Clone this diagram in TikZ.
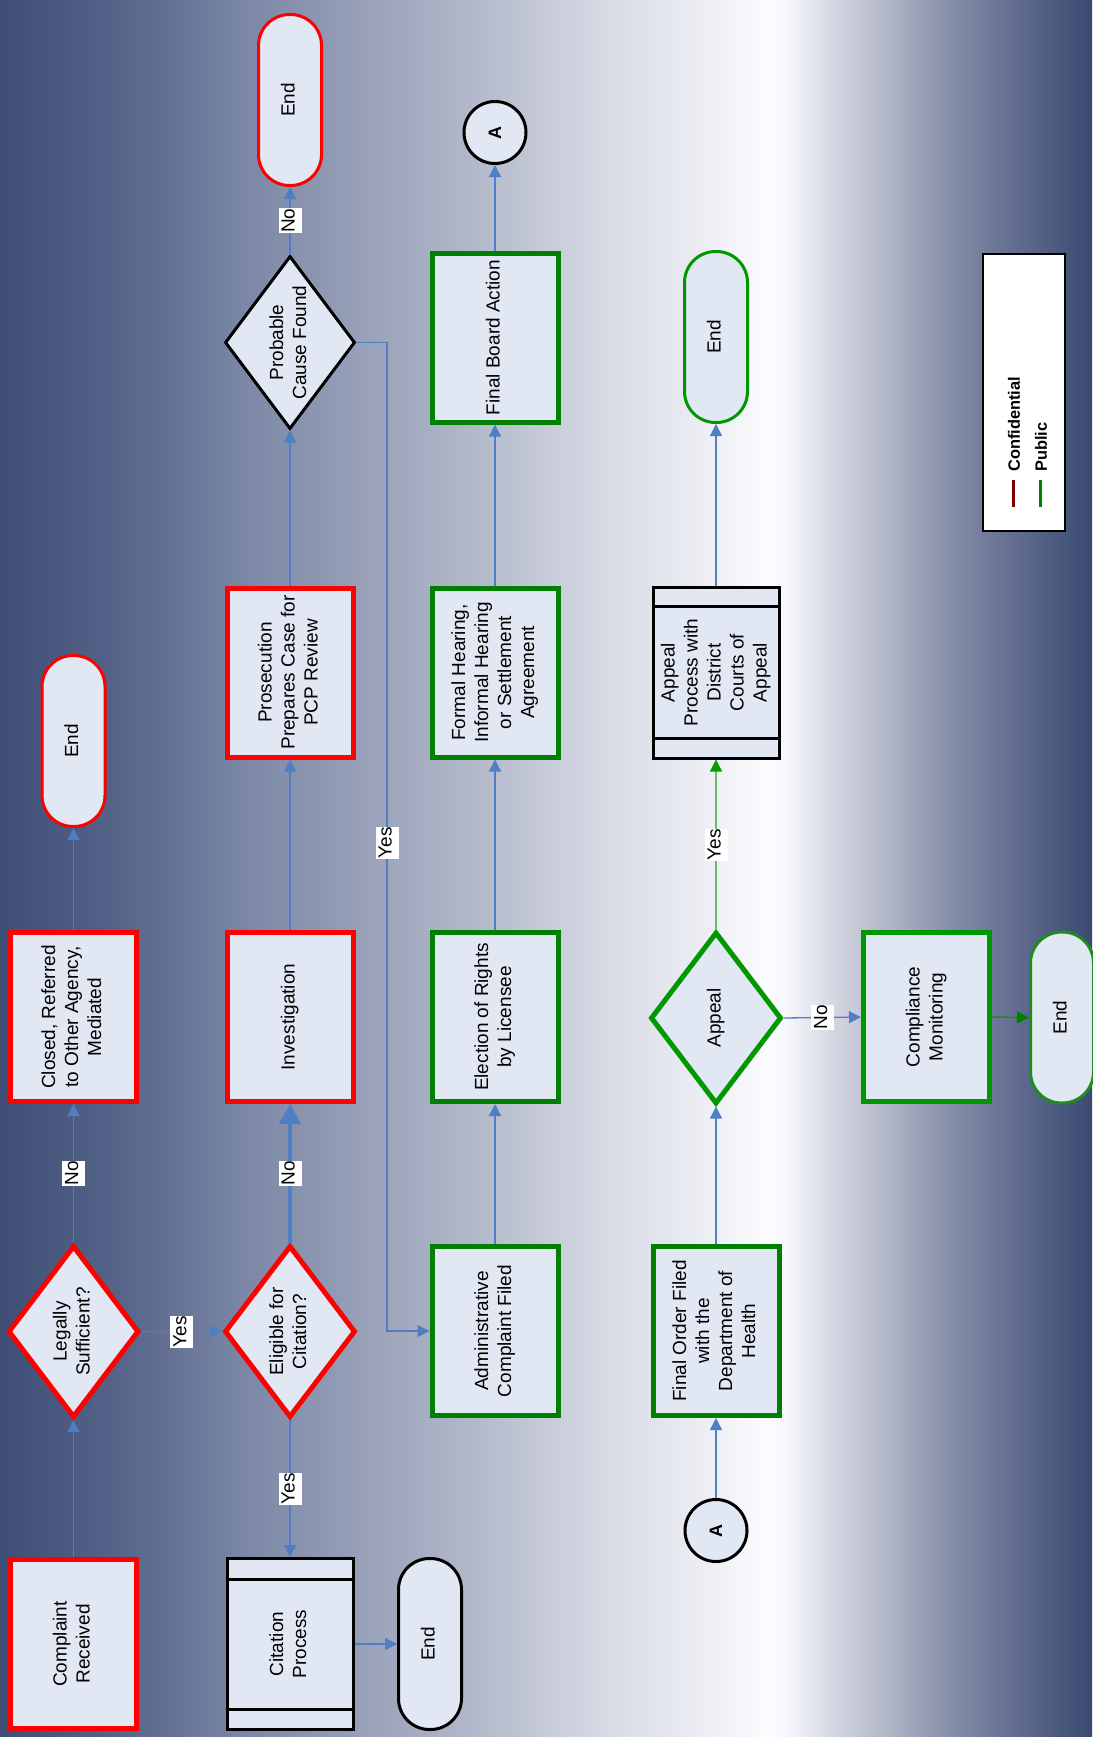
\documentclass[tikz,border=0pt]{standalone}
\usepackage{fontspec}
\setmainfont{Liberation Sans}
\usetikzlibrary{shapes.geometric,arrows.meta,calc}
\definecolor{fillc}{RGB}{225,232,243}
\definecolor{redc}{RGB}{255,0,0}
\definecolor{gdark}{RGB}{0,128,0}
\definecolor{gbright}{RGB}{0,152,0}
\definecolor{conn}{RGB}{78,126,196}
\definecolor{yesg}{RGB}{104,190,104}
\definecolor{tipg}{RGB}{0,160,0}
\definecolor{compg}{RGB}{30,140,30}
\definecolor{confc}{RGB}{128,0,0}
\definecolor{bgA}{RGB}{62,78,116}
\definecolor{bgB}{RGB}{86,100,138}
\definecolor{bgC}{RGB}{122,134,164}
\definecolor{bgD}{RGB}{152,160,184}
\definecolor{bgE}{RGB}{180,186,203}
\definecolor{bgF}{RGB}{214,217,228}
\definecolor{bgG}{RGB}{236,237,243}
\definecolor{bgH}{RGB}{252,252,255}
\definecolor{bgI}{RGB}{244,245,251}
\definecolor{bgJ}{RGB}{214,217,227}
\definecolor{bgK}{RGB}{168,174,192}
\definecolor{bgL}{RGB}{128,137,164}
\definecolor{bgM}{RGB}{95,106,142}
\definecolor{bgN}{RGB}{58,74,112}
\newcommand{\rtxt}[1]{\rotatebox{90}{\begin{tabular}{@{}c@{}}#1\end{tabular}}}
\newcommand{\rlab}[1]{\rotatebox{90}{\strut #1}}
\begin{document}
\begin{tikzpicture}[x=1pt,y=-1pt,
  base/.style={inner sep=0pt, fill=fillc, font=\fontsize{19}{23}\selectfont},
  rbox/.style={base, rectangle, draw=redc, line width=5pt, minimum width=126pt, minimum height=169pt},
  gbox/.style={base, rectangle, draw=gdark, line width=5pt, minimum width=126pt, minimum height=169pt},
  gboxb/.style={gbox, draw=gbright},
  pbox/.style={base, rectangle, draw=black, line width=3pt, minimum width=126pt, minimum height=171pt},
  rdia/.style={base, diamond, draw=redc, line width=5pt, minimum width=131pt, minimum height=172pt},
  gdia/.style={rdia, draw=gbright},
  kdia/.style={base, diamond, draw=black, line width=3pt, minimum width=130pt, minimum height=173pt},
  term/.style={base, rectangle, rounded corners=31pt, line width=3pt, minimum width=63pt, minimum height=171pt},
  conncirc/.style={base, circle, draw=black, line width=3pt, minimum size=62pt, font=\fontsize{18}{22}\selectfont\bfseries},
  tx/.style={inner sep=0pt, font=\fontsize{19}{23}\selectfont},
  lab/.style={fill=white, inner xsep=0pt, inner ysep=0.5pt, font=\fontsize{19}{23}\selectfont},
  conA/.style={draw=conn, line width=1.3pt, -{Triangle[length=12pt,width=12pt]}},
  conT/.style={draw=conn, line width=4.5pt, -{Triangle[length=20pt,width=21pt]}},
  conY/.style={draw=yesg, line width=1.3pt, -{Triangle[length=12pt,width=12pt,color=tipg]}},
  conC/.style={draw=compg, line width=1.5pt, -{Triangle[length=12pt,width=12pt,color=gdark]}},
  legtxt/.style={inner sep=0pt, anchor=south, font=\fontsize{16.4}{20}\selectfont\bfseries}
]
\useasboundingbox (0,0) rectangle (1092,1737);
% background gradient
\shade[left color=bgA,right color=bgB] (0,0) rectangle (120.5,1737);
\shade[left color=bgB,right color=bgC] (120,0) rectangle (240.5,1737);
\shade[left color=bgC,right color=bgD] (240,0) rectangle (360.5,1737);
\shade[left color=bgD,right color=bgE] (360,0) rectangle (480.5,1737);
\shade[left color=bgE,right color=bgF] (480,0) rectangle (600.5,1737);
\shade[left color=bgF,right color=bgG] (600,0) rectangle (700.5,1737);
\shade[left color=bgG,right color=bgH] (700,0) rectangle (770.5,1737);
\shade[left color=bgH,right color=bgI] (770,0) rectangle (790.5,1737);
\shade[left color=bgI,right color=bgJ] (790,0) rectangle (830.5,1737);
\shade[left color=bgJ,right color=bgK] (830,0) rectangle (900.5,1737);
\shade[left color=bgK,right color=bgL] (900,0) rectangle (960.5,1737);
\shade[left color=bgL,right color=bgM] (960,0) rectangle (1020.5,1737);
\shade[left color=bgM,right color=bgN] (1020,0) rectangle (1092,1737);

% column 1
\node[rbox] (cr) at (73.5,1644) {\rtxt{Complaint\\Received}};
\node[rdia] (ls) at (73.5,1331.5) {};
\node[tx] (lst) at (ls) {\rtxt{Legally\\Sufficient?}};
\node[rbox] (cl) at (73.5,1017) {\rtxt{Closed, Referred\\to Other Agency,\\Mediated}};
\node[term, draw=redc] (e1) at (73.5,741) {\rtxt{End}};

% column 2
\node[pbox] (cp) at (290,1644) {\rtxt{Citation\\Process}};
\draw[line width=3pt] ([yshift=-22pt]cp.north west) -- ([yshift=-22pt]cp.north east);
\draw[line width=3pt] ([yshift=22pt]cp.south west) -- ([yshift=22pt]cp.south east);
\node[term, draw=black] (e2) at (430,1644) {\rtxt{End}};
\node[rdia] (el) at (290,1331.5) {};
\node[tx] (elt) at (el) {\rtxt{Eligible for\\Citation?}};
\node[rbox] (inv) at (290,1017) {\rtxt{Investigation}};
\node[rbox] (pr) at (290,672.5) {\rtxt{Prosecution\\Prepares Case for\\PCP Review}};
\node[kdia] (pc) at (290,342.5) {};
\node[tx] (pct) at (pc) {\rtxt{Probable\\Cause Found}};
\node[term, draw=redc] (e3) at (290,100) {\rtxt{End}};

% column 3
\node[gbox] (ad) at (495,1331) {\rtxt{Administrative\\Complaint Filed}};
\node[gbox] (er) at (495,1017) {\rtxt{Election of Rights\\by Licensee}};
\node[gbox] (fh) at (495,672.5) {\rtxt{Formal Hearing,\\Informal Hearing\\or Settlement\\Agreement}};
\node[gbox] (fb) at (495,337.5) {\rtxt{Final Board Action}};
\node[conncirc] (a1) at (495,132.5) {\rotatebox{90}{A}};

% column 4
\node[conncirc] (a2) at (716,1530.5) {\rotatebox{90}{A}};
\node[gbox] (fo) at (716,1331) {\rtxt{Final Order Filed\\with the\\Department of\\Health}};
\node[gdia] (ap) at (716,1018) {};
\node[tx] (apt) at (ap) {\rtxt{Appeal}};
\node[pbox] (apr) at (716,672.5) {\rtxt{Appeal\\Process with\\District\\Courts of\\Appeal}};
\draw[line width=3pt] ([yshift=-21pt]apr.north west) -- ([yshift=-21pt]apr.north east);
\draw[line width=3pt] ([yshift=21pt]apr.south west) -- ([yshift=21pt]apr.south east);
\node[term, draw=gbright] (e4) at (716,337) {\rtxt{End}};

% column 5
\node[gboxb] (cm) at (926.5,1017) {\rtxt{Compliance\\Monitoring}};
\node[term, draw=compg] (e5) at (1062,1017.5) {\rtxt{End}};

% legend
\node[draw=black, line width=2pt, fill=white, inner sep=0pt, minimum width=82pt, minimum height=277pt] (lg) at (1024,392.5) {};
\node[legtxt] (lgc) at (1014,472) {\rotatebox{90}{Confidential}};
\node[legtxt] (lgp) at (1041,472) {\rotatebox{90}{Public}};
\draw[confc, line width=3pt] (1013,480) -- (1013,507);
\draw[gdark, line width=3pt] (1040,480) -- (1040,507);

% connectors
\draw[conA] (cr.north) -- (ls.south);
\draw[conA] (ls.north) -- node[lab]{\rlab{No}} (cl.south);
\draw[conA] (cl.north) -- (e1.south);
\draw[conA] (ls.east) -- node[lab]{\rlab{Yes}} (el.west);
\draw[conT] (el.north) -- node[lab]{\rlab{No}} (inv.south);
\draw[conA] (el.south) -- node[lab]{\rlab{Yes}} (cp.north);
\draw[conA] (cp.east) -- (e2.west);
\draw[conA] (inv.north) -- (pr.south);
\draw[conA] (pr.north) -- (pc.south);
\draw[conA] (pc.north) -- node[lab]{\rlab{No}} (e3.south);
\coordinate (j1) at (387,342.5);
\coordinate (j2) at (387,1331);
\draw[conA] (pc.east) -- (j1) -- node[lab,pos=0.506]{\rlab{Yes}} (j2) -- (ad.west);
\draw[conA] (ad.north) -- (er.south);
\draw[conA] (er.north) -- (fh.south);
\draw[conA] (fh.north) -- (fb.south);
\draw[conA] (fb.north) -- (a1.south);
\draw[conA] (a2.north) -- (fo.south);
\draw[conA] (fo.north) -- (ap.south);
\draw[conY] (ap.north) -- node[lab]{\rlab{Yes}} (apr.south);
\draw[conA] (apr.north) -- (e4.south);
\draw[conA] (ap.east) -- node[lab]{\rlab{No}} (cm.west);
\draw[conC] (cm.east) -- (e5.west);
\end{tikzpicture}
\end{document}
